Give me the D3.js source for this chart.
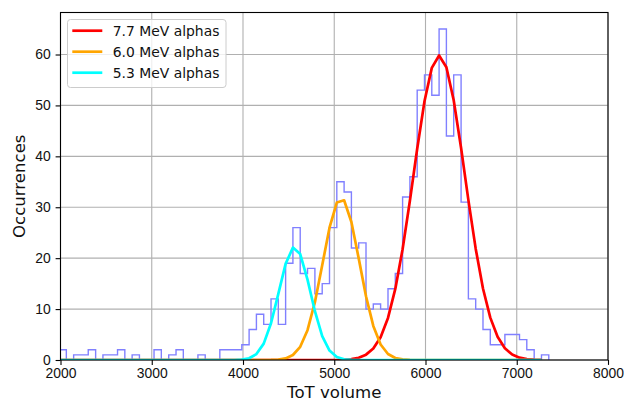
<!DOCTYPE html>
<html>
<head>
<meta charset="utf-8">
<script src="https://cdn.jsdelivr.net/npm/d3@7"></script>
<style>
  body { margin: 0; background: #fff; }
  svg { display: block; font-family: "DejaVu Sans", sans-serif; }
  .axis text { font-size: 13.9px; fill: #111; }
  .axis line { stroke: #000; stroke-width: 1.1; }
  .grid line { stroke: #b0b0b0; stroke-width: 1.1; }
  .axis-title { font-size: 16.6px; fill: #111; }
  .legend-text { font-size: 13.9px; fill: #111; }
</style>
</head>
<body>
<svg id="chart"></svg>
<script>
// histogram bin edges (ToT volume), 68 edges -> 67 bins
const binEdges = [
  1984, 2064, 2144, 2224, 2304, 2385, 2465, 2545, 2625, 2705,
  2785, 2865, 2945, 3025, 3105, 3186, 3266, 3346, 3426, 3506,
  3586, 3666, 3746, 3826, 3906, 3987, 4067, 4147, 4227, 4307,
  4387, 4467, 4547, 4627, 4707, 4788, 4868, 4948, 5028, 5108,
  5188, 5268, 5348, 5428, 5508, 5589, 5669, 5749, 5829, 5909,
  5989, 6069, 6149, 6229, 6309, 6390, 6470, 6550, 6630, 6710,
  6790, 6870, 6950, 7030, 7110, 7191, 7271, 7351
];

// occurrences per bin
const counts = [
  2, 0, 1, 1, 2, 0, 1, 1, 2, 0, 1, 0, 0, 2, 0, 1, 2, 0, 0, 1,
  0, 0, 2, 2, 2, 3, 6, 9, 7, 12, 7, 19, 26, 17, 18, 13, 15, 26, 35, 33,
  22, 23, 10, 11, 10, 14, 17, 32, 36, 53, 56, 52, 65, 44, 56, 31, 12, 10, 6, 3,
  3, 5, 5, 4, 2, 0, 1
];

// fitted curves, sampled at the left bin edges
const fit77 = [
  0, 0, 0, 0, 0, 0, 0, 0, 0, 0, 0, 0, 0, 0, 0, 0, 0, 0, 0, 0,
  0, 0, 0, 0, 0, 0, 0, 0, 0, 0, 0, 0, 0, 0, 0, 0, 0, 0, 0, 0.06,
  0.18, 0.45, 1.05, 2.26, 4.48, 8.26, 13.96, 21.76, 31.28, 41.5,
  50.81, 57.38, 59.8, 57.5, 51.01, 41.63, 31.41, 21.87, 14.05, 8.32,
  4.55, 2.3, 1.07, 0.46, 0.18, 0.07, 0.02
];
const fit60 = [
  0, 0, 0, 0, 0, 0, 0, 0, 0, 0, 0, 0, 0, 0, 0, 0, 0, 0, 0, 0,
  0, 0, 0, 0, 0, 0, 0, 0, 0, 0.02,
  0.09, 0.31, 0.98, 2.59, 5.85, 11.36, 18.61, 25.99, 30.93, 31.37,
  27.11, 19.96, 12.53, 6.7, 3.05, 1.17, 0.39, 0.11, 0.03, 0,
  0, 0, 0, 0, 0, 0, 0, 0, 0, 0, 0, 0, 0, 0, 0, 0, 0
];
const fit53 = [
  0, 0, 0, 0, 0, 0, 0, 0, 0, 0, 0, 0, 0, 0, 0, 0, 0, 0, 0, 0,
  0, 0, 0, 0, 0, 0.08, 0.34, 1.16, 3.22, 7.21,
  13.0, 18.87, 22.08, 20.8, 15.79, 9.58, 4.7, 1.86, 0.59, 0.15,
  0.03, 0, 0, 0, 0, 0, 0, 0, 0, 0, 0, 0, 0, 0, 0, 0, 0, 0, 0, 0,
  0, 0, 0, 0, 0, 0, 0
];

const seriesNames = ['7.7 MeV alphas', '6.0 MeV alphas', '5.3 MeV alphas'];
const seriesColors = ['red', 'orange', 'cyan'];
const xTicks = [2000, 3000, 4000, 5000, 6000, 7000, 8000];
const yTicks = [0, 10, 20, 30, 40, 50, 60];

class HistChart {
  constructor(_config) {
    this.config = {
      parentElement: _config.parentElement,
      containerWidth: 624,
      containerHeight: 403,
      margin: { top: 12.5, right: 16, bottom: 43, left: 60.5 }
    };
    this.initVis();
  }

  initVis() {
    let vis = this;
    vis.width = vis.config.containerWidth - vis.config.margin.left - vis.config.margin.right;
    vis.height = vis.config.containerHeight - vis.config.margin.top - vis.config.margin.bottom;

    vis.xScale = d3.scaleLinear().domain([2000, 8000]).range([0, vis.width]);
    vis.yScale = d3.scaleLinear().domain([0, 68.25]).range([vis.height, 0]);

    vis.svg = d3.select(vis.config.parentElement)
      .attr('width', vis.config.containerWidth)
      .attr('height', vis.config.containerHeight);

    vis.chart = vis.svg.append('g')
      .attr('transform', `translate(${vis.config.margin.left},${vis.config.margin.top})`);

    vis.svg.append('defs').append('clipPath')
      .attr('id', 'plot-clip')
      .append('rect')
      .attr('width', vis.width)
      .attr('height', vis.height);

    // grid
    vis.chart.append('g')
      .attr('class', 'grid')
      .selectAll('line.gx')
      .data(xTicks)
      .join('line')
      .attr('x1', d => vis.xScale(d)).attr('x2', d => vis.xScale(d))
      .attr('y1', 0).attr('y2', vis.height);
    vis.chart.select('.grid')
      .selectAll('line.gy')
      .data(yTicks)
      .join('line')
      .attr('class', 'gy')
      .attr('x1', 0).attr('x2', vis.width)
      .attr('y1', d => vis.yScale(d)).attr('y2', d => vis.yScale(d));

    vis.plot = vis.chart.append('g').attr('clip-path', 'url(#plot-clip)');

    vis.renderVis();
  }

  renderVis() {
    let vis = this;

    // step outline of the histogram
    const stepPts = [[binEdges[0], 0]];
    counts.forEach((c, i) => {
      stepPts.push([binEdges[i], c]);
      stepPts.push([binEdges[i + 1], c]);
    });
    stepPts.push([binEdges[binEdges.length - 1], 0]);

    const line = d3.line()
      .x(d => vis.xScale(d[0]))
      .y(d => vis.yScale(d[1]));

    vis.plot.append('path')
      .attr('d', line(stepPts))
      .attr('fill', 'none')
      .attr('stroke', 'rgb(128,128,255)')
      .attr('stroke-width', 1.4);

    const fits = [fit77, fit60, fit53];
    fits.forEach((f, s) => {
      const pts = f.map((v, i) => [binEdges[i], v]);
      vis.plot.append('path')
        .attr('d', line(pts))
        .attr('fill', 'none')
        .attr('stroke', seriesColors[s])
        .attr('stroke-width', 2.7)
        .attr('stroke-linejoin', 'round');
    });

    // axes
    vis.chart.append('g')
      .attr('class', 'axis x-axis')
      .attr('transform', `translate(0,${vis.height})`)
      .call(d3.axisBottom(vis.xScale).tickValues(xTicks).tickFormat(d3.format('d'))
        .tickSize(4.9).tickPadding(3.6))
      .call(g => g.select('.domain').remove())
      .selectAll('text').attr('font-family', null);

    vis.chart.append('g')
      .attr('class', 'axis y-axis')
      .call(d3.axisLeft(vis.yScale).tickValues(yTicks).tickSize(4.9).tickPadding(5))
      .call(g => g.select('.domain').remove())
      .selectAll('text').attr('font-family', null);

    // spines
    vis.chart.append('rect')
      .attr('width', vis.width)
      .attr('height', vis.height)
      .attr('fill', 'none')
      .attr('stroke', '#000')
      .attr('stroke-width', 1.1);

    vis.chart.append('text')
      .attr('class', 'axis-title')
      .attr('x', vis.width / 2)
      .attr('y', vis.height + 38)
      .attr('text-anchor', 'middle')
      .text('ToT volume');

    vis.chart.append('text')
      .attr('class', 'axis-title')
      .attr('transform', `translate(${-35.5},${vis.height / 2}) rotate(-90)`)
      .attr('text-anchor', 'middle')
      .text('Occurrences');

    // legend
    const legend = vis.chart.append('g')
      .attr('transform', 'translate(7,7)');
    legend.append('rect')
      .attr('width', 158.5)
      .attr('height', 68)
      .attr('rx', 3)
      .attr('fill', '#fff')
      .attr('fill-opacity', 0.8)
      .attr('stroke', '#cccccc')
      .attr('stroke-width', 1);
    seriesNames.forEach((name, i) => {
      const row = 11.2 + i * 21;
      legend.append('line')
        .attr('x1', 4.8).attr('x2', 34.8)
        .attr('y1', row).attr('y2', row)
        .attr('stroke', seriesColors[i])
        .attr('stroke-width', 2.7);
      legend.append('text')
        .attr('class', 'legend-text')
        .attr('x', 45.2)
        .attr('y', row + 5)
        .text(name);
    });
  }
}

new HistChart({ parentElement: '#chart' });
</script>
</body>
</html>
